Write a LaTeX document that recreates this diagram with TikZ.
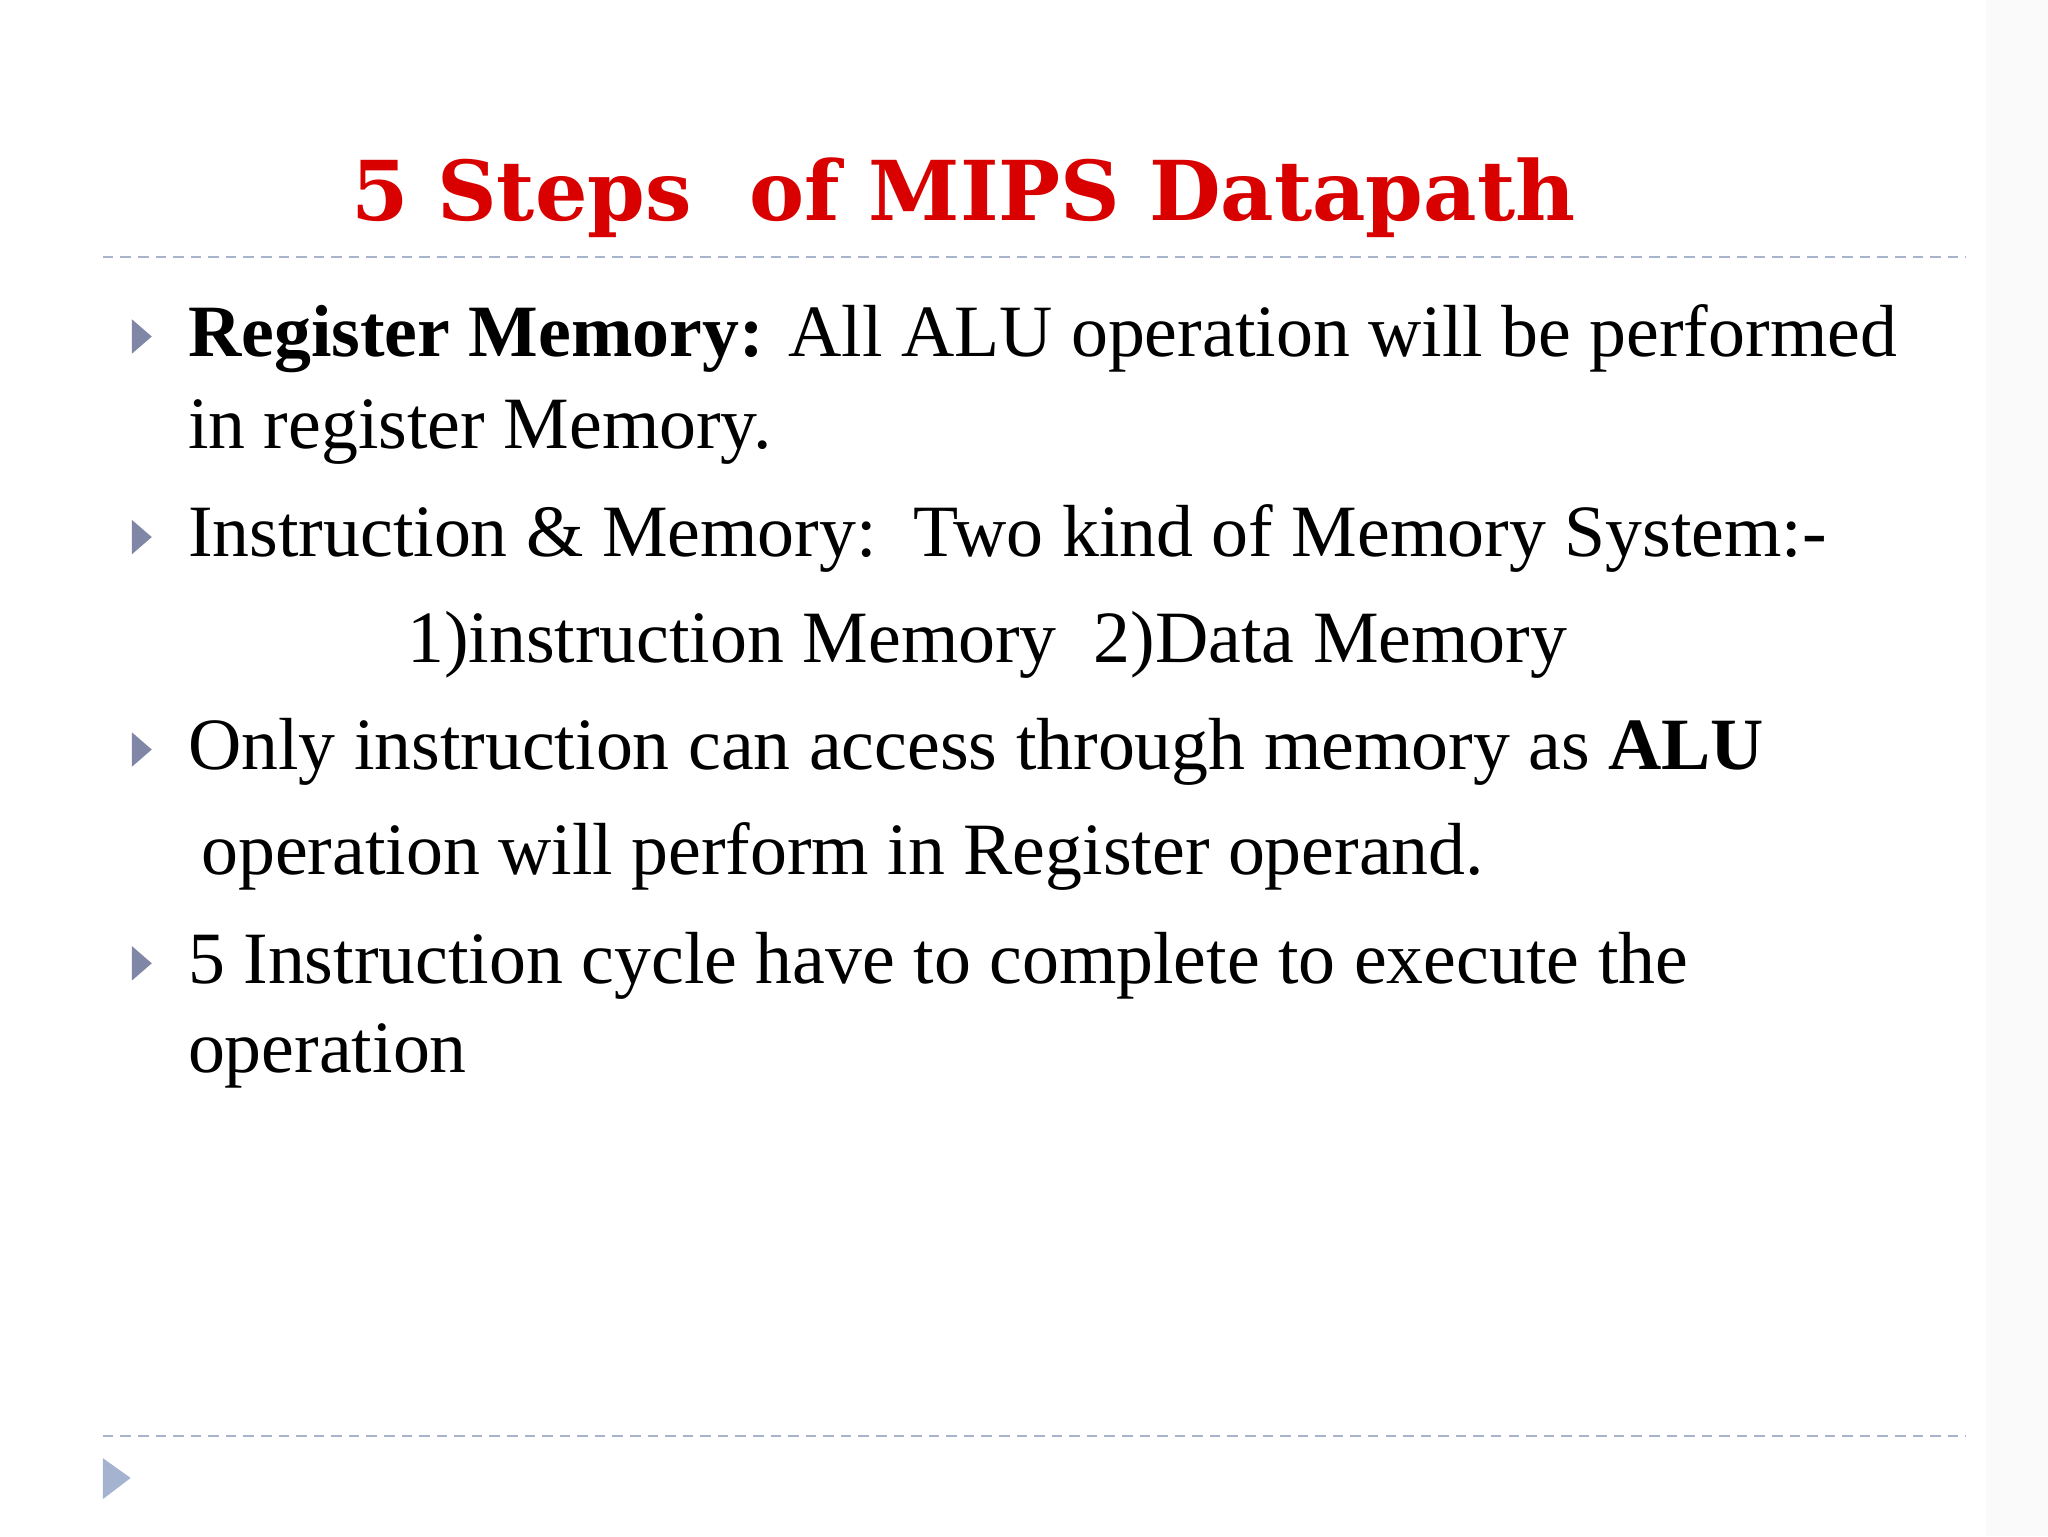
\documentclass[tikz,border=0pt]{standalone}
\usepackage{fontspec}
\setmainfont{Liberation Serif}
\newfontfamily\titlefont{DejaVu Serif}
\definecolor{bulc}{HTML}{7F86A6}
\definecolor{rulec}{HTML}{A8B4CC}
\definecolor{cornc}{HTML}{A4B4D0}
\begin{document}
\begin{tikzpicture}[x=0.013196cm,y=-0.013196cm,
  body/.style={anchor=base west,inner sep=0pt,font=\fontsize{21}{24}\selectfont},
  bul/.style={fill=bulc},
  rule/.style={draw=rulec,dash pattern=on 3pt off 2pt,line width=0.6pt}]
\useasboundingbox (0,0) rectangle (1552,1164);
\fill[white] (0,0) rectangle (1552,1164);
\fill[black!2] (1505,0) rectangle (1552,1164);
\node[inner sep=0pt,text=red!85!black,font=\titlefont\bfseries\fontsize{23.5}{28}\selectfont] (title) at (730,150) {5 Steps\ \ of MIPS Datapath};
\draw[rule] (78,195) -- (1490,195);
\draw[rule] (78,1088) -- (1490,1088);
\foreach \y/\n in {255/b1,407/b2,568/b3,730/b4}{
  \fill[bul] (100,\y-13) -- (115,\y) -- (100,\y+13) -- cycle;}
\fill[cornc] (78,1105) -- (99,1120) -- (78,1136) -- cycle;
\node[body] (l1) at (142,270) {\textbf{Register Memory:} All ALU operation will be performed};
\node[body] (l2) at (142,340) {in register Memory.};
\node[body] (l3) at (142,422) {Instruction \& Memory:\ \ Two kind of Memory System:-};
\node[body] (l4) at (308,502) {1)instruction Memory\ \ 2)Data Memory};
\node[body] (l5) at (142,583) {Only instruction can access through memory as \textbf{ALU}};
\node[body] (l6) at (152,663) {operation will perform in Register operand.};
\node[body] (l7) at (142,745) {5 Instruction cycle have to complete to execute the};
\node[body] (l8) at (142,813) {operation};
\end{tikzpicture}
\end{document}
